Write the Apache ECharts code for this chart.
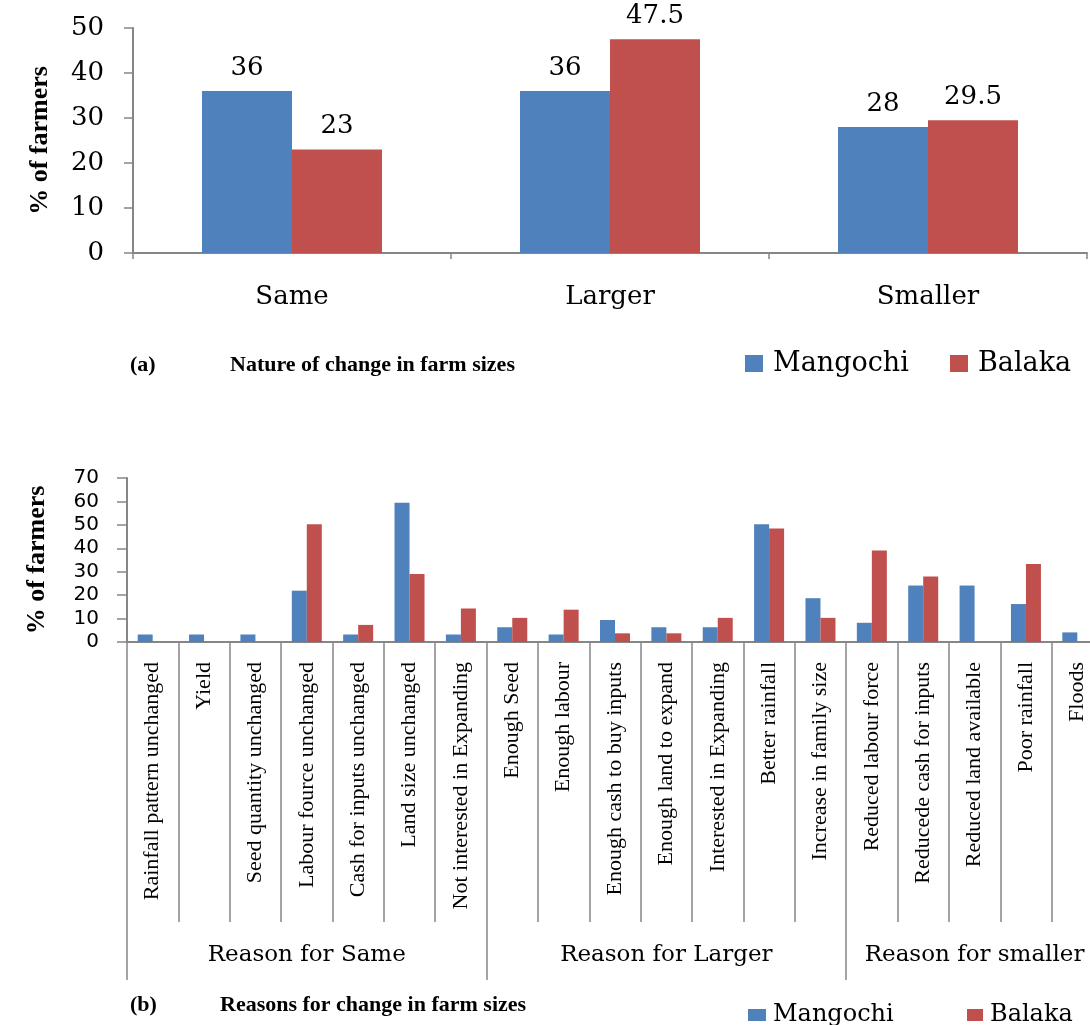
<!DOCTYPE html>
<html>
<head>
<meta charset="utf-8">
<script src="https://cdn.jsdelivr.net/npm/echarts@6/dist/echarts.min.js"></script>
<style>
  html, body { margin: 0; padding: 0; background: #fff; }
  #chart { width: 1090px; height: 1025px; }
</style>
</head>
<body>
<div id="chart"></div>
<script>
// (a) nature of change
const sizeCategories = ['Same', 'Larger', 'Smaller'];
const sizeMangochi = [36, 36, 28];
const sizeBalaka = [23, 47.5, 29.5];

// (b) reasons for change
const reasons = [
  'Rainfall pattern unchanged', 'Yield', 'Seed quantity unchanged', 'Labour fource unchanged',
  'Cash for inputs unchanged', 'Land size unchanged', 'Not interested in Expanding',
  'Enough Seed', 'Enough labour', 'Enough cash to buy inputs', 'Enough land to expand',
  'Interested in Expanding', 'Better rainfall', 'Increase in family size',
  'Reduced labour force', 'Reducede cash for inputs', 'Reduced land available', 'Poor rainfall', 'Floods'
];
const reasonMangochi = [3.2, 3.2, 3.2, 21.9, 3.2, 59.4, 3.2, 6.3, 3.2, 9.4, 6.3, 6.3, 50.3, 18.7, 8.2, 24.1, 24.1, 16.2, 4.1];
const reasonBalaka = [0, 0, 0, 50.3, 7.3, 29, 14.3, 10.3, 13.8, 3.7, 3.7, 10.3, 48.4, 10.3, 39.1, 28, 0, 33.3, 0];
const reasonGroups = ['Reason for Same', 'Reason for Larger', 'Reason for smaller'];
const groupSizes = [7, 7, 5];

const BLUE = '#4f81bd';
const RED = '#c0504d';
const AXIS = '#868686';

// group axis: label in the middle of each group, tick on each group start
const groupAxisData = [];
const groupStarts = [];
groupSizes.forEach((n, g) => {
  groupStarts.push(groupAxisData.length);
  for (let i = 0; i < n; i++) {
    groupAxisData.push(i === Math.floor(n / 2) ? reasonGroups[g] : '');
  }
});

const chart = echarts.init(document.getElementById('chart'));

const nameStyle = { fontFamily: 'Liberation Serif', fontWeight: 'bold', fontSize: 26, color: '#000' };
const titleStyle = { fontFamily: 'Liberation Serif', fontWeight: 'bold', fontSize: 22, color: '#000' };
const legendTop = { fontFamily: 'DejaVu Serif', fontSize: 27, color: '#000', padding: [0, 0, 0, 5] };
const legendBottom = { fontFamily: 'DejaVu Serif', fontSize: 24, color: '#000', padding: [0, 0, 0, 2] };
const valueLabel = { show: true, position: 'top', distance: 10, fontFamily: 'DejaVu Serif', fontSize: 26, color: '#000' };

const option = {
  backgroundColor: '#fff',
  animation: false,
  color: [BLUE, RED],
  title: [
    { text: '(a)', left: 130, top: 354, padding: 0, textStyle: titleStyle },
    { text: 'Nature of change in farm sizes', left: 230, top: 354, padding: 0, textStyle: titleStyle },
    { text: '(b)', left: 130, top: 994, padding: 0, textStyle: titleStyle },
    { text: 'Reasons for change in farm sizes', left: 220, top: 994, padding: 0, textStyle: titleStyle }
  ],
  legend: [
    { data: ['Mangochi'], left: 745, top: 350, padding: 0, icon: 'rect', itemWidth: 18, itemHeight: 17, textStyle: legendTop },
    { data: ['Balaka'], left: 950, top: 350, padding: 0, icon: 'rect', itemWidth: 18, itemHeight: 17, textStyle: legendTop },
    { data: ['Mangochi'], left: 748, top: 1003, padding: 0, icon: 'rect', itemWidth: 18, itemHeight: 12, textStyle: legendBottom },
    { data: ['Balaka'], left: 967, top: 1003, padding: 0, icon: 'rect', itemWidth: 16, itemHeight: 12, textStyle: legendBottom }
  ],
  grid: [
    { left: 133, right: 3, top: 28, height: 225, outerBoundsMode: 'none' },
    { left: 127, width: 976, top: 478, height: 164, outerBoundsMode: 'none' }
  ],
  xAxis: [
    {
      gridIndex: 0,
      type: 'category',
      data: sizeCategories,
      axisLine: { lineStyle: { color: AXIS, width: 2 } },
      axisTick: { show: true, length: 6, lineStyle: { color: AXIS, width: 1.5 } },
      axisLabel: { margin: 31, fontFamily: 'DejaVu Serif', fontSize: 26, color: '#000' }
    },
    {
      gridIndex: 1,
      type: 'category',
      data: reasons,
      axisLine: { lineStyle: { color: AXIS, width: 2 } },
      axisTick: { show: true, interval: 0, length: 280, lineStyle: { color: AXIS, width: 1.5 } },
      axisLabel: { interval: 0, rotate: 90, margin: 20, fontFamily: 'Liberation Serif', fontSize: 22, color: '#000' }
    },
    {
      gridIndex: 1,
      type: 'category',
      position: 'bottom',
      data: groupAxisData,
      axisLine: { show: false },
      axisTick: {
        show: true,
        interval: (i) => groupStarts.includes(i),
        length: 338,
        lineStyle: { color: AXIS, width: 1.5 }
      },
      axisLabel: { interval: 0, margin: 302, fontFamily: 'DejaVu Serif', fontSize: 23, color: '#000' }
    }
  ],
  yAxis: [
    {
      gridIndex: 0,
      type: 'value',
      min: 0, max: 50, interval: 10,
      name: '% of farmers', nameLocation: 'middle', nameGap: 80, nameTextStyle: nameStyle,
      axisLine: { show: true, lineStyle: { color: AXIS, width: 2 } },
      axisTick: { show: true, length: 9, lineStyle: { color: AXIS, width: 1.5 } },
      axisLabel: { margin: 29, fontFamily: 'DejaVu Serif', fontSize: 26, color: '#000' },
      splitLine: { show: false }
    },
    {
      gridIndex: 1,
      type: 'value',
      min: 0, max: 70, interval: 10,
      name: '% of farmers', nameLocation: 'middle', nameGap: 77, nameTextStyle: nameStyle,
      axisLine: { show: true, lineStyle: { color: AXIS, width: 2 } },
      axisTick: { show: true, length: 10, lineStyle: { color: AXIS, width: 1.5 } },
      axisLabel: { margin: 28, fontFamily: 'DejaVu Sans', fontSize: 20, color: '#000' },
      splitLine: { show: false }
    }
  ],
  series: [
    {
      name: 'Mangochi', type: 'bar', xAxisIndex: 0, yAxisIndex: 0,
      data: sizeMangochi, barWidth: 90, barGap: '0%',
      itemStyle: { color: BLUE },
      label: valueLabel
    },
    {
      name: 'Balaka', type: 'bar', xAxisIndex: 0, yAxisIndex: 0,
      data: sizeBalaka, barWidth: 90, barGap: '0%',
      itemStyle: { color: RED },
      label: valueLabel
    },
    {
      name: 'Mangochi', type: 'bar', xAxisIndex: 1, yAxisIndex: 1,
      data: reasonMangochi, barWidth: 15, barGap: '0%',
      itemStyle: { color: BLUE }
    },
    {
      name: 'Balaka', type: 'bar', xAxisIndex: 1, yAxisIndex: 1,
      data: reasonBalaka, barWidth: 15, barGap: '0%',
      itemStyle: { color: RED }
    }
  ]
};

chart.setOption(option);
</script>
</body>
</html>
